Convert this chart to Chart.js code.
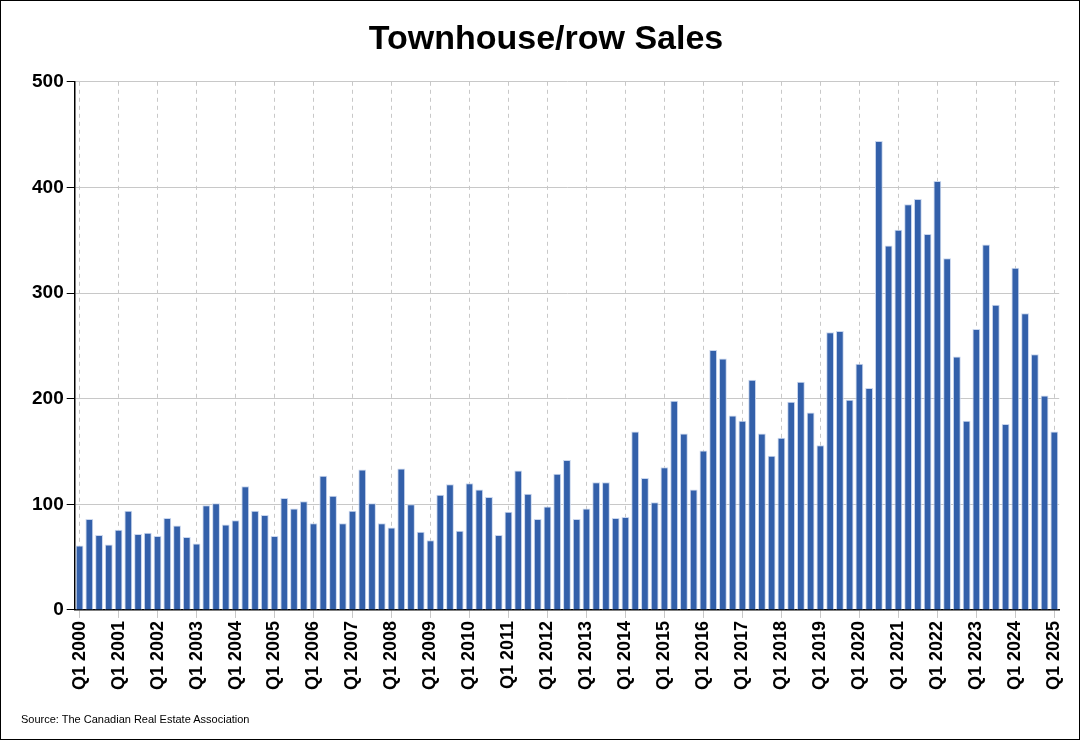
<!DOCTYPE html>
<html><head><meta charset="utf-8">
<script src="https://cdn.jsdelivr.net/npm/chart.js@4"></script>
<style>
html,body{margin:0;padding:0;background:#fff;}
#wrap{position:relative;width:1078px;height:738px;border:1px solid #000;}
#src{position:absolute;left:20px;bottom:14px;font:11px Arial,"Liberation Sans",sans-serif;}
</style></head><body>
<div id="wrap"><canvas id="c" width="1078" height="738"></canvas><div id="src">Source: The Canadian Real Estate Association</div></div>
<script>
const years = [];
for (let y = 2000; y <= 2025; y++) years.push(y);
const categories = [];
years.forEach(y => { for (let q = 1; q <= 4; q++) { if (y === 2025 && q > 1) break; categories.push('Q' + q + ' ' + y); } });
const sales = [
61,86,71,62, 76,94,72,73, 70,87,80,69, 63,99,101,81, 85,117,94,90,
70,106,96,103, 82,127,108,82, 94,133,101,82, 78,134,100,74, 66,109,119,75,
120,114,107,71, 93,132,110,86, 98,129,142,86, 96,121,121,87, 88,169,125,102,
135,198,167,114, 151,246,238,184, 179,218,167,146, 163,197,216,187, 156,263,264,199,
233,210,444,345, 360,384,389,356, 406,333,240,179, 266,346,289,176, 324,281,242,203,
169];
const yTicks = [0,100,200,300,400,500];
new Chart(document.getElementById('c'), {
  type: 'bar',
  data: { labels: categories, datasets: [{ data: sales, backgroundColor: '#3360AA', borderColor: '#c9d6ee', borderWidth: {left:1,right:1,top:1,bottom:0}, categoryPercentage: 0.8, barPercentage: 1 }] },
  options: {
    responsive: false, animation: false,
    layout: { padding: { left: 28, right: 16, top: 0, bottom: 46 } },
    plugins: {
      legend: { display: false },
      title: { display: true, text: 'Townhouse/row Sales', color: '#000', font: { family: 'Arial, Liberation Sans', size: 34, weight: 'bold' }, padding: { top: 18, bottom: 22 } }
    },
    scales: {
      x: {
        grid: { offset: false, drawTicks: true, tickLength: 8, color: ctx => (ctx.index % 4 === 0 ? '#c8c8c8' : 'transparent') },
        border: { color: '#000', width: 1.5, dash: [4,4] },
        ticks: { autoSkip: false, maxRotation: 90, minRotation: 90, color: '#000',
          font: { family: 'Arial, Liberation Sans', size: 18, weight: 'bold' },
          callback: (v, i) => (i % 4 === 0 ? categories[i] : '') }
      },
      y: {
        min: 0, max: 500,
        afterBuildTicks: s => { s.ticks = yTicks.map(v => ({ value: v })); },
        grid: { color: '#c8c8c8', tickLength: 8, tickColor: '#000' },
        border: { color: '#000', width: 1.5 },
        ticks: { color: '#000', font: { family: 'Arial, Liberation Sans', size: 19, weight: 'bold' } }
      }
    }
  }
});
</script>
</body></html>
